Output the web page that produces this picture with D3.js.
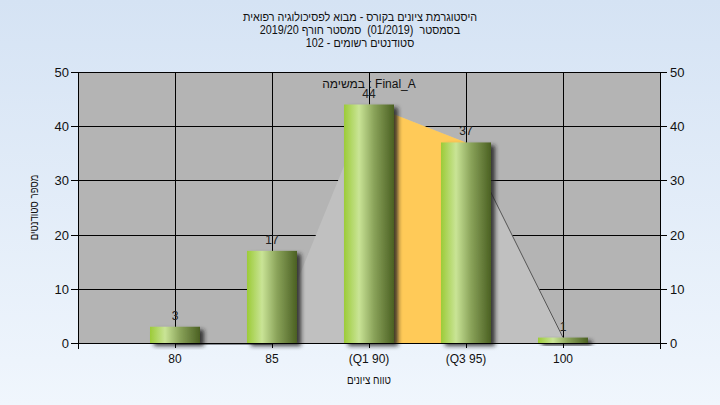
<!DOCTYPE html>
<html><head><meta charset="utf-8">
<script src="https://cdn.jsdelivr.net/npm/d3@7"></script>
<style>
html,body{margin:0;padding:0;}
svg text{font-family:"Liberation Sans",Arial,sans-serif;white-space:pre;}
</style></head>
<body>
<svg id="c" width="720" height="405"></svg>
<script>
const categories = ["80","85","(Q1 90)","(Q3 95)","100"];
const counts = [3,17,44,37,1];
const areaValues = [0,0,44,37,1];
const yTicks = [0,10,20,30,40,50];
const titleLines = ["היסטוגרמת ציונים בקורס - מבוא לפסיכולוגיה רפואית","בסמסטר  (01/2019)  סמסטר חורף 2019/20","סטודנטים רשומים - 102"];
const seriesLabel = "במשימה : Final_A";
const xTitle = "טווח ציונים";
const yTitle = "מספר סטודנטים";
const q1Index = 2, q3Index = 3;

const svg = d3.select("#c");
const W=720,H=405;
const L=78,R=660,T=72,B=343;
const x = d3.scaleLinear().domain([0,categories.length+1]).range([L,R]);
const y = d3.scaleLinear().domain([0,50]).range([B,T]);
const barW = 50;

const defs = svg.append("defs");
const bg = defs.append("linearGradient").attr("id","bg").attr("x1",0).attr("y1",0).attr("x2",0).attr("y2",1);
bg.append("stop").attr("offset","0%").attr("stop-color","#d5e3f4");
bg.append("stop").attr("offset","100%").attr("stop-color","#f0f6fd");
const bar = defs.append("linearGradient").attr("id","bar").attr("x1",0).attr("y1",0).attr("x2",1).attr("y2",0);
bar.append("stop").attr("offset","0%").attr("stop-color","#9ccb38");
bar.append("stop").attr("offset","30%").attr("stop-color","#c9e496");
bar.append("stop").attr("offset","60%").attr("stop-color","#8aa35a");
bar.append("stop").attr("offset","100%").attr("stop-color","#4b6022");
const f = defs.append("filter").attr("id","sh").attr("x","-20%").attr("y","-20%").attr("width","160%").attr("height","160%");
f.append("feDropShadow").attr("dx",4).attr("dy",3).attr("stdDeviation",2).attr("flood-color","#222").attr("flood-opacity",0.85);

svg.append("rect").attr("width",W).attr("height",H).attr("fill","url(#bg)");
svg.append("rect").attr("x",L).attr("y",T).attr("width",R-L).attr("height",B-T).attr("fill","#b4b4b4");

// grid
svg.append("g").selectAll("line").data(yTicks.filter(d=>d>0)).join("line")
  .attr("x1",L).attr("x2",R).attr("y1",d=>Math.round(y(d))+0.5).attr("y2",d=>Math.round(y(d))+0.5)
  .attr("stroke","#000").attr("stroke-width",1);
svg.append("g").selectAll("line").data(categories).join("line")
  .attr("x1",(d,i)=>Math.round(x(i+1))+0.5).attr("x2",(d,i)=>Math.round(x(i+1))+0.5)
  .attr("y1",T).attr("y2",B).attr("stroke","#000").attr("stroke-width",1);

// area
const pts = areaValues.map((v,i)=>[x(i+1),y(v)]);
const area = d3.area().x(d=>d[0]).y0(y(0)).y1(d=>d[1]);
svg.append("path").attr("d",area(pts)).attr("fill","#c0c0c0");
svg.append("path").attr("d",area(pts.slice(q1Index,q3Index+1))).attr("fill","#ffca58");
const line = d3.line();
svg.append("path").attr("d",line(pts.slice(q3Index))).attr("fill","none").attr("stroke","#555").attr("stroke-width",1);
svg.append("path").attr("d",line(pts.slice(0,2).map(p=>[p[0],p[1]+1.5]))).attr("fill","none").attr("stroke","#8a8f96").attr("stroke-width",1);

// bars
svg.append("g").selectAll("rect").data(counts).join("rect")
  .attr("x",(d,i)=>x(i+1)-barW/2).attr("width",barW)
  .attr("y",d=>y(d)).attr("height",d=>y(0)-y(d))
  .attr("fill","url(#bar)").attr("filter","url(#sh)");

// value labels
svg.append("g").selectAll("text").data(counts).join("text")
  .attr("x",(d,i)=>x(i+1)).attr("y",d=>y(d)-7)
  .attr("text-anchor","middle").attr("font-size",12).attr("fill","#222").text(d=>d);

// axes
const ax = svg.append("g").attr("stroke","#000").attr("stroke-width",1);
ax.append("line").attr("x1",L+0.5).attr("x2",L+0.5).attr("y1",T).attr("y2",B+6);
ax.append("line").attr("x1",R+0.5).attr("x2",R+0.5).attr("y1",T).attr("y2",B+6);
ax.append("line").attr("x1",L).attr("x2",R+7).attr("y1",B+0.5).attr("y2",B+0.5);
ax.append("line").attr("x1",L).attr("x2",R).attr("y1",T+0.5).attr("y2",T+0.5);
yTicks.forEach(t=>{
  const yy=Math.round(y(t))+0.5;
  ax.append("line").attr("x1",L-7).attr("x2",L).attr("y1",yy).attr("y2",yy);
  ax.append("line").attr("x1",R).attr("x2",R+7).attr("y1",yy).attr("y2",yy);
});
categories.forEach((c,i)=>{
  const xx=Math.round(x(i+1))+0.5;
  ax.append("line").attr("x1",xx).attr("x2",xx).attr("y1",B).attr("y2",B+5);
});
svg.append("g").selectAll("text").data(yTicks).join("text")
  .attr("x",L-9).attr("y",d=>y(d)+5).attr("text-anchor","end").attr("font-size",13).attr("fill","#111").text(d=>d);
svg.append("g").selectAll("text").data(yTicks).join("text")
  .attr("x",R+10).attr("y",d=>y(d)+5).attr("text-anchor","start").attr("font-size",13).attr("fill","#111").text(d=>d);
svg.append("g").selectAll("text").data(categories).join("text")
  .attr("x",(d,i)=>x(i+1)).attr("y",B+20).attr("text-anchor","middle").attr("font-size",12).attr("fill","#111")
  .attr("direction","ltr").text(d=>d);

svg.append("text").attr("transform",`translate(${x(3)},384) scale(0.82,1)`).attr("text-anchor","middle").attr("font-size",12).attr("fill","#111").attr("direction","rtl").attr("unicode-bidi","embed").text(xTitle);
svg.append("text").attr("transform",`translate(38,${(T+B)/2}) rotate(-90) scale(0.8,1)`).attr("text-anchor","middle").attr("font-size",12).attr("fill","#111").attr("direction","rtl").attr("unicode-bidi","embed").text(yTitle);

svg.append("g").selectAll("text").data(titleLines).join("text")
  .attr("transform",(d,i)=>`translate(360,${21+i*13}) scale(0.9,1)`).attr("text-anchor","middle").attr("font-size",12).attr("fill","#111")
  .attr("direction","rtl").attr("unicode-bidi","embed").attr("xml:space","preserve").text(d=>d);

svg.append("text").attr("x",x(3)).attr("y",88).attr("text-anchor","middle").attr("font-size",12).attr("fill","#111").attr("direction","ltr").text(seriesLabel);
</script>
</body></html>
